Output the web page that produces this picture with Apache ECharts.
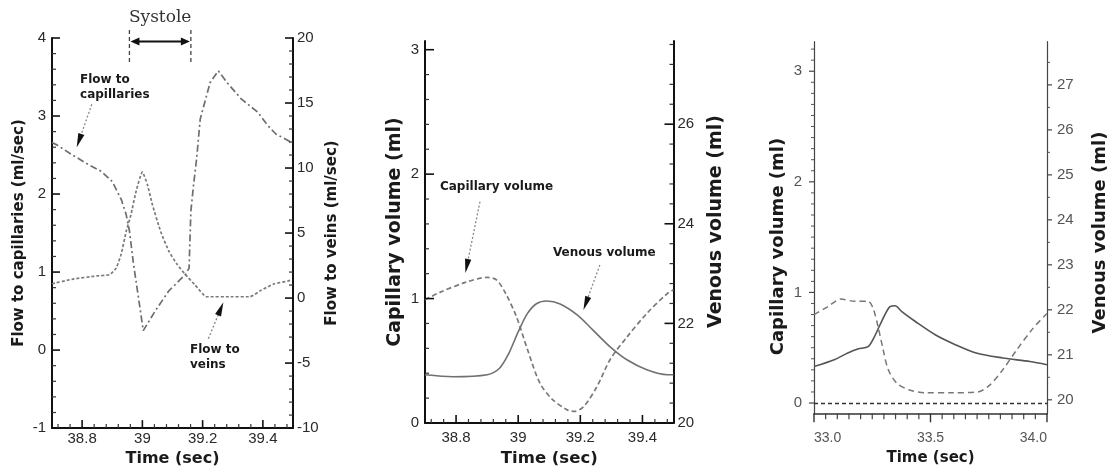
<!DOCTYPE html>
<html><head><meta charset="utf-8">
<script src="https://cdn.jsdelivr.net/npm/echarts@6/dist/echarts.min.js"></script>
<style>html,body{margin:0;padding:0;background:#fff}#c{width:1116px;height:472px}</style>
</head><body><div id="c"></div>
<script>
// ---------------- data ----------------
// Panel 1: flows
const p1CapTime = [38.70, 38.716, 38.76, 38.815, 38.864, 38.90, 38.93, 38.946, 38.957, 38.97, 39.003, 39.044, 39.088, 39.143, 39.155, 39.161, 39.17, 39.18, 39.192, 39.213, 39.225, 39.252, 39.285, 39.328, 39.383, 39.416, 39.443, 39.482, 39.495];
const p1CapFlow = [2.66, 2.63, 2.52, 2.39, 2.29, 2.16, 1.93, 1.74, 1.53, 1.12, 0.25, 0.51, 0.76, 0.97, 1.05, 1.78, 2.12, 2.45, 2.96, 3.26, 3.43, 3.58, 3.41, 3.22, 3.05, 2.88, 2.77, 2.69, 2.66];
const p1VeinTime = [38.70, 38.77, 38.848, 38.891, 38.913, 38.93, 38.946, 38.962, 38.979, 39.0, 39.017, 39.033, 39.061, 39.088, 39.115, 39.143, 39.175, 39.213, 39.30, 39.357, 39.394, 39.438, 39.482, 39.495];
const p1VeinFlow = [1.1, 1.46, 1.7, 1.8, 2.3, 3.4, 5.1, 6.4, 8.2, 9.7, 8.7, 7.2, 5.1, 3.6, 2.6, 1.8, 1.0, 0.1, 0.1, 0.1, 0.6, 1.1, 1.3, 1.4];
const systoleTimes = [38.957, 39.161];
// Panel 2: volumes
const p2CapTime = [38.70, 38.748, 38.83, 38.90, 38.93, 38.96, 38.995, 39.03, 39.07, 39.11, 39.157, 39.18, 39.21, 39.253, 39.296, 39.35, 39.414, 39.48, 39.50];
const p2CapVolume = [0.99, 1.05, 1.13, 1.17, 1.15, 1.04, 0.85, 0.59, 0.32, 0.19, 0.107, 0.093, 0.13, 0.29, 0.51, 0.69, 0.88, 1.04, 1.07];
const p2VenTime = [38.70, 38.79, 38.90, 38.94, 38.97, 39.0, 39.03, 39.06, 39.092, 39.135, 39.19, 39.24, 39.296, 39.35, 39.414, 39.48, 39.50];
const p2VenVolume = [20.97, 20.93, 20.97, 21.1, 21.4, 21.83, 22.2, 22.4, 22.45, 22.39, 22.17, 21.87, 21.53, 21.27, 21.07, 20.97, 20.97];
// Panel 3: volumes
const p3CapTime = [33.0, 33.058, 33.116, 33.174, 33.232, 33.253, 33.275, 33.297, 33.319, 33.355, 33.406, 33.478, 33.594, 33.703, 33.753, 33.81, 33.87, 33.94, 34.0];
const p3CapVolume = [0.80, 0.87, 0.94, 0.92, 0.92, 0.86, 0.69, 0.48, 0.30, 0.18, 0.12, 0.093, 0.093, 0.10, 0.16, 0.30, 0.48, 0.675, 0.81];
const p3VenTime = [33.0, 33.087, 33.145, 33.188, 33.232, 33.26, 33.29, 33.326, 33.348, 33.377, 33.435, 33.522, 33.609, 33.696, 33.81, 33.927, 34.0];
const p3VenVolume = [20.74, 20.89, 21.04, 21.13, 21.18, 21.41, 21.74, 22.07, 22.09, 21.96, 21.74, 21.44, 21.22, 21.04, 20.93, 20.85, 20.78];
const p3ZeroLine = [0];
// tick values and labels
const p1XTicks = [38.8, 39, 39.2, 39.4];
const p1XLabels = ['38.8', '39', '39.2', '39.4'];
const p1LeftTicks = [-1, 0, 1, 2, 3, 4];
const p1RightTicks = [-10, -5, 0, 5, 10, 15, 20];
const p2XTicks = [38.8, 39, 39.2, 39.4];
const p2XLabels = ['38.8', '39', '39.2', '39.4'];
const p2LeftTicks = [0, 1, 2, 3];
const p2RightTicks = [20, 22, 24, 26];
const p3XTicks = [33.0, 33.5, 34.0];
const p3XLabels = ['33.0', '33.5', '34.0'];
const p3LeftTicks = [0, 1, 2, 3];
const p3RightTicks = [20, 21, 22, 23, 24, 25, 26, 27];

// ---------------- helpers ----------------
const zip = (a, b) => a.map((t, i) => [t, b[i]]);
function minors(min, max, step, majors) {
  const out = [];
  for (let k = Math.ceil(min / step - 1e-9); k * step <= max + 1e-9; k++) {
    const v = Math.round(k * step * 1e6) / 1e6;
    if (!majors.some(m => Math.abs(m - v) < 1e-6)) out.push(v);
  }
  return out;
}
function fmt(ticks, labels) {
  return v => { const i = ticks.findIndex(t => Math.abs(t - v) < 1e-6); return i >= 0 ? (labels ? labels[i] : String(ticks[i])) : ''; };
}
const TICKF = 'Liberation Sans';
const TITLEF = 'DejaVu Sans';

function axis(o) {
  return {
    type: 'value', gridIndex: o.grid, position: o.pos, min: o.min, max: o.max,
    axisLine: { show: true, onZero: false, lineStyle: { color: o.color, width: o.lw || 1 } },
    axisTick: { show: false },
    axisLabel: {
      show: true, customValues: o.ticks, formatter: fmt(o.ticks, o.labels), margin: o.margin,
      color: o.lcolor, fontFamily: TICKF, fontSize: o.fs, alignMinLabel: o.alignMin, alignMaxLabel: o.alignMax
    },
    splitLine: { show: false },
    name: o.name || '', nameLocation: 'middle', nameGap: o.gap, nameRotate: o.rot,
    nameTextStyle: { fontFamily: TITLEF, fontWeight: 'bold', fontSize: o.nfs, color: '#1a1a1a', padding: o.pad || 0 }
  };
}

const grids = [
  { left: 52, top: 38, width: 241, height: 394 },
  { left: 425, top: 41, width: 248.5, height: 382 },
  { left: 814, top: 41.7, width: 233, height: 371.6 }
];

const P1 = { xmin: 38.7, xmax: 39.5, lmin: -1, lmax: 4, rmin: -10, rmax: 20 };
const P2 = { xmin: 38.7, xmax: 39.5, lmin: 0, lmax: 3.07, rmin: 20, rmax: 27.67 };
const P3 = { xmin: 33.0, xmax: 34.0, lmin: -0.093, lmax: 3.267, rmin: 19.70, rmax: 27.96 };

const xAxes = [
  axis({ grid: 0, pos: 'bottom', min: P1.xmin, max: P1.xmax, color: '#111', lw: 2, ticks: p1XTicks, labels: p1XLabels, margin: 3, lcolor: '#2a2a2a', fs: 15, name: 'Time (sec)', gap: 21, nfs: 16 }),
  axis({ grid: 1, pos: 'bottom', min: P2.xmin, max: P2.xmax, color: '#111', lw: 2, ticks: p2XTicks, labels: p2XLabels, margin: 7, lcolor: '#2a2a2a', fs: 15, name: 'Time (sec)', gap: 26, nfs: 16.5 }),
  axis({ grid: 2, pos: 'bottom', min: P3.xmin, max: P3.xmax, color: '#333', lw: 1.5, ticks: p3XTicks, labels: p3XLabels, margin: 18, lcolor: '#555', fs: 14, name: 'Time (sec)', gap: 35, nfs: 15, alignMin: 'left', alignMax: 'right' })
];

const yAxes = [
  axis({ grid: 0, pos: 'left', min: P1.lmin, max: P1.lmax, color: '#111', lw: 2, ticks: p1LeftTicks, margin: 6, lcolor: '#2a2a2a', fs: 15, name: 'Flow to capillaries (ml/sec)', gap: 25, rot: 90, nfs: 15 }),
  axis({ grid: 0, pos: 'right', min: P1.rmin, max: P1.rmax, color: '#111', lw: 2, ticks: p1RightTicks, margin: 4, lcolor: '#2a2a2a', fs: 15, name: 'Flow to veins (ml/sec)', gap: 32, rot: 90, nfs: 15 }),
  axis({ grid: 1, pos: 'left', min: P2.lmin, max: P2.lmax, color: '#111', lw: 2, ticks: p2LeftTicks, margin: 6, lcolor: '#2a2a2a', fs: 15, name: 'Capillary volume (ml)', gap: 20, rot: 90, nfs: 19 }),
  axis({ grid: 1, pos: 'right', min: P2.rmin, max: P2.rmax, color: '#111', lw: 2, ticks: p2RightTicks, margin: 4, lcolor: '#2a2a2a', fs: 15, name: 'Venous volume (ml)', gap: 33, rot: 90, nfs: 19, pad: [0, 0, 0, 21] }),
  axis({ grid: 2, pos: 'left', min: P3.lmin, max: P3.lmax, color: '#444', lw: 1.2, ticks: p3LeftTicks, margin: 12, lcolor: '#555', fs: 15, name: 'Capillary volume (ml)', gap: 27, rot: 90, nfs: 18, pad: [0, 38, 0, 0] }),
  axis({ grid: 2, pos: 'right', min: P3.rmin, max: P3.rmax, color: '#444', lw: 1.2, ticks: p3RightTicks, margin: 10, lcolor: '#555', fs: 15, name: 'Venous volume (ml)', gap: 44, rot: 90, nfs: 18, pad: [0, 10, 0, 0] })
];

const line = (name, xi, yi, data, style, smooth) => ({
  name, type: 'line', xAxisIndex: xi, yAxisIndex: yi, data, symbol: 'none', showSymbol: false,
  smooth: smooth || false, lineStyle: style, silent: true
});

const series = [
  line('Flow to capillaries', 0, 0, zip(p1CapTime, p1CapFlow), { color: '#6e6e6e', width: 1.7, type: [7, 3, 2, 3] }),
  line('Flow to veins', 0, 1, zip(p1VeinTime, p1VeinFlow), { color: '#7a7a7a', width: 1.7, type: [3, 2] }, 0.15),
  line('Capillary volume', 1, 2, zip(p2CapTime, p2CapVolume), { color: '#7a7a7a', width: 1.7, type: [5, 3] }, 0.3),
  line('Venous volume', 1, 3, zip(p2VenTime, p2VenVolume), { color: '#707070', width: 1.6 }, 0.3),
  Object.assign(line('Capillary volume', 2, 4, zip(p3CapTime, p3CapVolume), { color: '#777', width: 1.5, type: [6, 4] }, 0.3), {
    markLine: { silent: true, symbol: 'none', label: { show: false }, animation: false,
      lineStyle: { color: '#333', width: 1.3, type: [4, 3] }, data: p3ZeroLine.map(v => ({ yAxis: v })) }
  }),
  line('Venous volume', 2, 5, zip(p3VenTime, p3VenVolume), { color: '#555', width: 1.6 }, 0.3)
];

const chart = echarts.init(document.getElementById('c'), null, { renderer: 'canvas' });
chart.setOption({ animation: false, backgroundColor: '#fff', grid: grids, xAxis: xAxes, yAxis: yAxes, series });

// ---------------- ticks and annotations ----------------
const px = (xi, yi, t, v) => chart.convertToPixel({ xAxisIndex: xi, yAxisIndex: yi }, [t, v]);
const g = [];
function seg(x1, y1, x2, y2, stroke, w, dash) {
  return { type: 'line', silent: true, z: 5, shape: { x1, y1, x2, y2 }, style: { stroke, lineWidth: w, lineDash: dash || null } };
}
// side: 'left' | 'right' | 'bottom'; dir: +1 inside, -1 outside
function ticks(xi, yi, P, side, values, len, dir, color, w) {
  values.forEach(v => {
    if (side === 'bottom') {
      const p = px(xi, yi, v, side === 'bottom' ? (yi % 2 === 0 ? P.lmin : P.rmin) : 0);
      g.push(seg(p[0], p[1], p[0], p[1] - dir * len, color, w));
    } else if (side === 'left') {
      const p = px(xi, yi, P.xmin, v);
      g.push(seg(p[0], p[1], p[0] + dir * len, p[1], color, w));
    } else {
      const p = px(xi, yi, P.xmax, v);
      g.push(seg(p[0], p[1], p[0] - dir * len, p[1], color, w));
    }
  });
}
// Panel 1 ticks (inside)
ticks(0, 0, P1, 'left', p1LeftTicks, 8, 1, '#111', 1.6);
ticks(0, 0, P1, 'left', minors(P1.lmin, P1.lmax, 0.2, p1LeftTicks), 4, 1, '#333', 1.2);
ticks(0, 1, P1, 'right', p1RightTicks, 8, 1, '#111', 1.6);
ticks(0, 1, P1, 'right', minors(P1.rmin, P1.rmax, 1, p1RightTicks), 4, 1, '#333', 1.2);
ticks(0, 0, P1, 'bottom', p1XTicks, 8, 1, '#111', 1.6);
ticks(0, 0, P1, 'bottom', minors(P1.xmin, P1.xmax, 0.04, p1XTicks), 4, 1, '#333', 1.2);
// Panel 2 ticks (inside)
ticks(1, 2, P2, 'left', p2LeftTicks, 9, 1, '#111', 1.6);
ticks(1, 2, P2, 'left', minors(P2.lmin, P2.lmax, 0.2, p2LeftTicks), 4, 1, '#333', 1.2);
ticks(1, 3, P2, 'right', p2RightTicks, 9, 1, '#111', 1.6);
ticks(1, 3, P2, 'right', minors(P2.rmin, P2.rmax, 0.4, p2RightTicks), 4, 1, '#333', 1.2);
ticks(1, 2, P2, 'bottom', p2XTicks, 8, 1, '#111', 1.6);
ticks(1, 2, P2, 'bottom', minors(P2.xmin, P2.xmax, 0.04, p2XTicks), 4, 1, '#333', 1.2);
// Panel 3 ticks (outside)
ticks(2, 4, P3, 'left', p3LeftTicks, 5, -1, '#444', 1.2);
ticks(2, 4, P3, 'left', minors(P3.lmin, P3.lmax, 0.1, p3LeftTicks), 3, -1, '#555', 1);
ticks(2, 5, P3, 'right', p3RightTicks, 5, -1, '#444', 1.2);
ticks(2, 5, P3, 'right', minors(P3.rmin, P3.rmax, 0.5, p3RightTicks), 3, -1, '#555', 1);
ticks(2, 4, P3, 'bottom', p3XTicks, 9, -1, '#333', 1.4);
ticks(2, 4, P3, 'bottom', minors(P3.xmin, P3.xmax, 0.05, p3XTicks), 6, -1, '#444', 1.2);

function head(tip, tail, len, hw, fill) {
  const dx = tip[0] - tail[0], dy = tip[1] - tail[1], d = Math.hypot(dx, dy), ux = dx / d, uy = dy / d;
  const bx = tip[0] - ux * len, by = tip[1] - uy * len;
  return { type: 'polygon', silent: true, z: 6, shape: { points: [tip, [bx - uy * hw, by + ux * hw], [bx + uy * hw, by - ux * hw]] }, style: { fill: fill || '#111' } };
}
function arrow(tail, tip) {
  const dx = tip[0] - tail[0], dy = tip[1] - tail[1], d = Math.hypot(dx, dy);
  const base = [tip[0] - dx / d * 12, tip[1] - dy / d * 12];
  return [seg(tail[0], tail[1], base[0], base[1], '#888', 1.3, [2, 2]), head(tip, tail, 14, 3.2)];
}
const txt = (p, text, size, align, valign) => ({
  type: 'text', silent: true, z: 6, x: p[0], y: p[1],
  style: { text, fill: '#1a1a1a', font: 'bold ' + size + 'px "' + TITLEF + '"', align: align || 'left', verticalAlign: valign || 'top', lineHeight: size + 3 }
});

// Systole marker
const s0 = px(0, 0, systoleTimes[0], P1.lmax), s1 = px(0, 0, systoleTimes[1], P1.lmax);
const top1 = s0[1];
[s0, s1].forEach(p => g.push(seg(p[0], top1 - 8, p[0], top1 + 25, '#444', 1.3, [4, 3])));
const ay = top1 + 3.5;
g.push(seg(s0[0] + 6, ay, s1[0] - 6, ay, '#111', 2));
g.push(head([s0[0] + 1, ay], [s1[0], ay], 9, 4));
g.push(head([s1[0] - 1, ay], [s0[0], ay], 9, 4));
g.push({ type: 'text', silent: true, x: (s0[0] + s1[0]) / 2, y: top1 - 20,
  style: { text: 'Systole', fill: '#333', font: '17px "DejaVu Serif"', align: 'center', verticalAlign: 'middle' } });

// Panel 1 labels
g.push(txt(px(0, 0, 38.793, 3.556), 'Flow to\ncapillaries', 12));
arrow(px(0, 0, 38.832, 3.15), px(0, 0, 38.782, 2.60)).forEach(e => g.push(e));
g.push(txt(px(0, 0, 39.158, 0.104), 'Flow to\nveins', 12));
arrow(px(0, 0, 39.219, 0.146), px(0, 0, 39.269, 0.612)).forEach(e => g.push(e));
// Panel 2 labels
g.push(txt(px(1, 2, 38.748, 1.90), 'Capillary volume', 12, 'left', 'middle'));
arrow(px(1, 2, 38.877, 1.779), px(1, 2, 38.830, 1.206)).forEach(e => g.push(e));
g.push(txt(px(1, 2, 39.112, 1.369), 'Venous volume', 12, 'left', 'middle'));
arrow(px(1, 2, 39.263, 1.270), px(1, 2, 39.210, 0.908)).forEach(e => g.push(e));

chart.setOption({ graphic: { elements: g } });
</script>
</body></html>
